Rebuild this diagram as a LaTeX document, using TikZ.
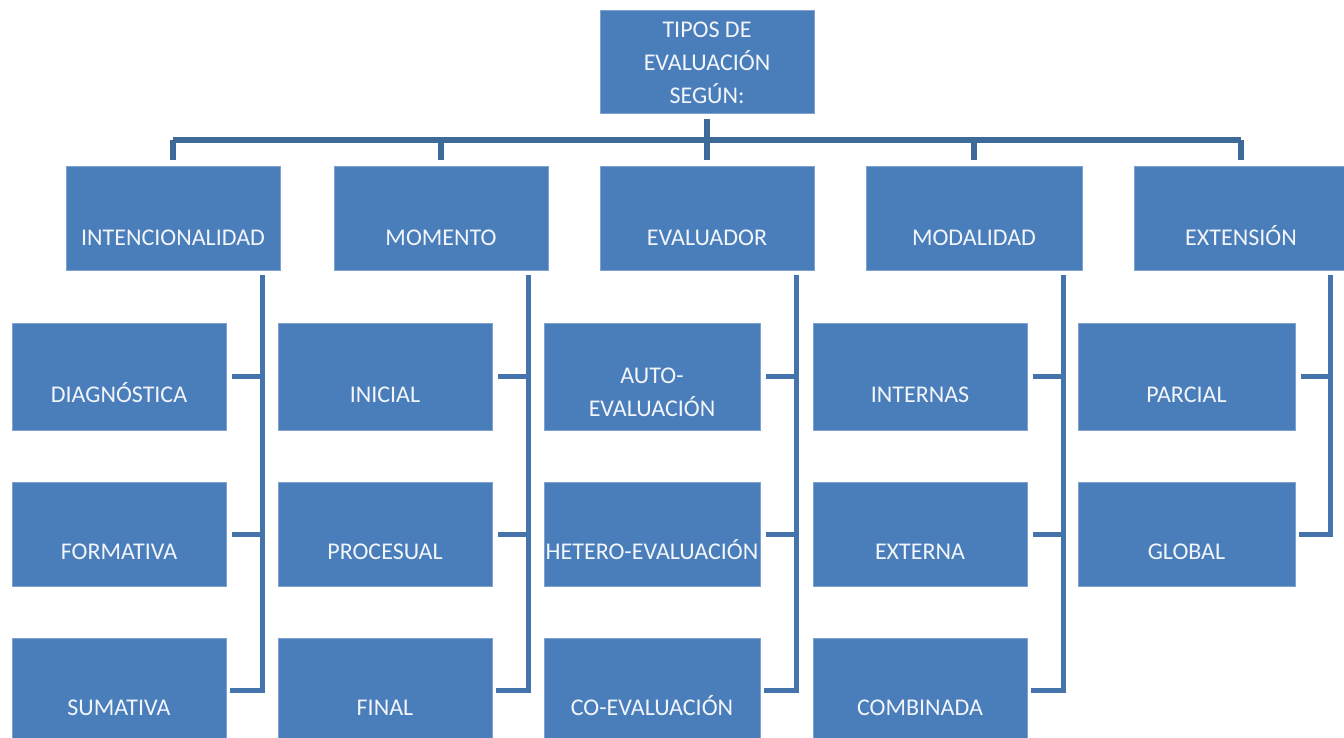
\documentclass[tikz,border=0pt]{standalone}
\usepackage{fontspec}
\setmainfont{Carlito}
\definecolor{boxblue}{HTML}{4A7EBB}
\definecolor{boxedge}{HTML}{7FA2D0}
\definecolor{topline}{HTML}{3D6A99}
\definecolor{sideline}{HTML}{4573AC}
\definecolor{txt}{HTML}{F2F5FA}
\begin{document}
\begin{tikzpicture}[x=1pt,y=-1pt,
  box/.style={rectangle,fill=boxblue,draw=boxedge,line width=0.8pt,inner sep=0pt,
    minimum width=214pt,minimum height=104pt},
  lbl/.style={text=txt,font=\fontsize{24}{33}\selectfont,align=center,
    execute at begin node={\vphantom{Ó}}},
  tline/.style={draw=topline,line width=5.5pt},
  sline/.style={draw=sideline,line width=5pt}]
\clip (0,0) rectangle (1344,738);
\fill[white] (0,0) rectangle (1344,738);
% top
\node[box,minimum height=103pt,label={[lbl,anchor=center,yshift=-1pt]center:TIPOS DE\\EVALUACIÓN\\SEGÚN:}] (top) at (707,61.5) {};
% level 1
\node[box,label={[lbl,anchor=center,yshift=-18pt]center:INTENCIONALIDAD}] (a) at (173,218) {};
\node[box,label={[lbl,anchor=center,yshift=-18pt]center:MOMENTO}] (b) at (441,218) {};
\node[box,label={[lbl,anchor=center,yshift=-18pt]center:EVALUADOR}] (c) at (707,218) {};
\node[box,minimum width=216pt,label={[lbl,anchor=center,yshift=-18pt]center:MODALIDAD}] (d) at (974,218) {};
\node[box,label={[lbl,anchor=center,yshift=-18pt]center:EXTENSIÓN}] (e) at (1241,218) {};
% children
\tikzset{child/.style={box,label={[lbl,anchor=center,yshift=-16pt]center:#1}}}
\node[child=DIAGNÓSTICA,minimum height=107pt] (a1) at (119,376.5) {};
\node[child=FORMATIVA] (a2) at (119,534) {};
\node[child=SUMATIVA] (a3) at (119,690) {};
\node[child=INICIAL,minimum height=107pt] (b1) at (385,376.5) {};
\node[child=PROCESUAL] (b2) at (385,534) {};
\node[child=FINAL] (b3) at (385,690) {};
\node[child={AUTO-\\EVALUACIÓN},minimum width=216pt,minimum height=107pt] (c1) at (652,376.5) {};
\node[child=HETERO-EVALUACIÓN,minimum width=216pt] (c2) at (652,534) {};
\node[child=CO-EVALUACIÓN,minimum width=216pt] (c3) at (652,690) {};
\node[child=INTERNAS,minimum height=107pt] (d1) at (920,376.5) {};
\node[child=EXTERNA] (d2) at (920,534) {};
\node[child=COMBINADA] (d3) at (920,690) {};
\node[child=PARCIAL,minimum width=217pt,minimum height=107pt] (e1) at (1186.5,376.5) {};
\node[child=GLOBAL,minimum width=217pt] (e2) at (1186.5,534) {};
% top connectors
\coordinate (bus) at (707,140);
\draw[tline] ([yshift=-6pt]top.south) -- (bus);
\draw[tline] (a.north |- bus) -- (e.north |- bus);
\foreach \n in {a,b,c,d,e}{
  \draw[tline] (\n.north |- bus) -- ([yshift=6pt]\n.north);
}
% side connectors
\foreach \p/\vx/\last in {a/262/3,b/528/3,c/796/3,d/1063/3}{
  \coordinate (\p v) at (\vx,277);
  \draw[sline,line cap=rect] (\p v) -- (\p v |- \p\last.east) -- ([xshift=6pt]\p\last.east);
  \draw[sline] ([xshift=6pt]\p1.east) -- (\p v |- \p1.east);
  \draw[sline] ([xshift=6pt]\p2.east) -- (\p v |- \p2.east);
}
\coordinate (ev) at (1330,277);
\draw[sline,line cap=rect] (ev) -- (ev |- e2.east) -- ([xshift=6pt]e2.east);
\draw[sline] ([xshift=6pt]e1.east) -- (ev |- e1.east);
\end{tikzpicture}
\end{document}
